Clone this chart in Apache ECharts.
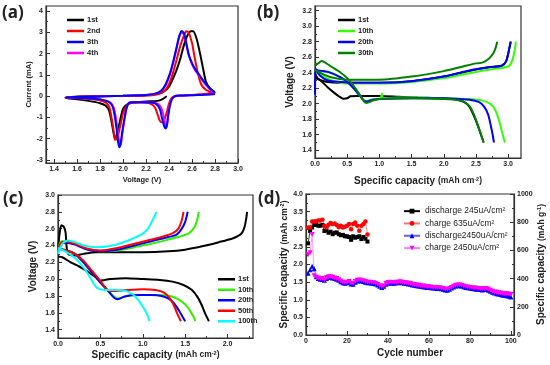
<!DOCTYPE html>
<html><head><meta charset="utf-8">
<script src="https://cdn.jsdelivr.net/npm/echarts@6/dist/echarts.min.js"></script>
<style>html,body{margin:0;padding:0;background:#fff}#c{width:550px;height:365px}</style>
</head><body><div id="c"></div>
<script>
// ---------- Panel (a): CV curves [Voltage (V), Current (mA)] ----------
const aNames = ['1st','2nd','3th','4th'];
const aColors = ['#000000','#ff0000','#0000ff','#ff00ff'];
const a1st = [[2.38,0.0],[2.34,-0.15],[2.3,-0.22],[2.2,-0.25],[2.1,-0.3],[2.05,-0.35],[2.02,-0.45],[2.0,-0.6],[1.98,-1.0],[1.96,-1.5],[1.94,-1.9],[1.93,-1.98],[1.92,-1.8],[1.9,-1.2],[1.88,-0.7],[1.85,-0.45],[1.8,-0.33],[1.7,-0.22],[1.6,-0.14],[1.5,-0.08],[1.55,-0.04],[1.7,0.0],[2.0,0.02],[2.2,0.05],[2.3,0.1],[2.35,0.2],[2.4,0.45],[2.44,0.9],[2.47,1.3],[2.5,1.8],[2.53,2.4],[2.56,2.85],[2.59,3.05],[2.61,3.05],[2.64,2.7],[2.67,2.0],[2.7,1.2],[2.72,0.7],[2.75,0.4],[2.78,0.25],[2.8,0.2]];
const a2nd = [[2.8,0.15],[2.7,0.1],[2.6,0.06],[2.5,0.03],[2.45,0.0],[2.42,-0.1],[2.4,-0.35],[2.38,-0.75],[2.36,-1.1],[2.34,-1.22],[2.32,-1.15],[2.3,-0.85],[2.28,-0.55],[2.25,-0.38],[2.2,-0.3],[2.1,-0.3],[2.06,-0.32],[2.03,-0.45],[2.0,-0.8],[1.98,-1.3],[1.96,-1.75],[1.94,-2.02],[1.93,-2.05],[1.92,-1.7],[1.9,-1.0],[1.88,-0.5],[1.85,-0.3],[1.8,-0.2],[1.7,-0.13],[1.6,-0.08],[1.5,-0.05],[1.6,-0.03],[1.8,0.0],[2.1,0.02],[2.25,0.05],[2.32,0.12],[2.37,0.3],[2.41,0.7],[2.44,1.2],[2.47,1.8],[2.5,2.4],[2.53,2.85],[2.55,3.05],[2.57,3.0],[2.6,2.5],[2.62,1.9],[2.65,1.1],[2.68,0.55],[2.72,0.3],[2.76,0.2],[2.8,0.15]];
const a3th = [[2.8,0.1],[2.7,0.07],[2.6,0.05],[2.5,0.03],[2.45,0.0],[2.43,-0.1],[2.41,-0.4],[2.39,-1.0],[2.38,-1.4],[2.37,-1.52],[2.36,-1.45],[2.34,-1.05],[2.32,-0.6],[2.29,-0.38],[2.25,-0.3],[2.15,-0.28],[2.08,-0.28],[2.05,-0.32],[2.03,-0.55],[2.01,-1.1],[1.99,-1.8],[1.98,-2.2],[1.97,-2.4],[1.96,-2.25],[1.95,-1.8],[1.93,-1.0],[1.91,-0.5],[1.88,-0.28],[1.8,-0.15],[1.7,-0.1],[1.5,-0.05],[1.7,-0.02],[2.0,0.02],[2.2,0.06],[2.28,0.12],[2.33,0.25],[2.37,0.55],[2.41,1.1],[2.44,1.7],[2.47,2.4],[2.49,2.85],[2.51,3.07],[2.53,2.95],[2.55,2.5],[2.57,2.0],[2.6,1.55],[2.63,1.25],[2.67,0.95],[2.71,0.65],[2.75,0.4],[2.78,0.25],[2.8,0.15]];
const a4th = [[2.8,0.1],[2.6,0.05],[2.5,0.02],[2.45,-0.02],[2.42,-0.15],[2.4,-0.6],[2.39,-1.1],[2.38,-1.45],[2.37,-1.4],[2.36,-1.1],[2.34,-0.65],[2.31,-0.38],[2.26,-0.3],[2.15,-0.28],[2.08,-0.28],[2.05,-0.32],[2.03,-0.6],[2.01,-1.2],[1.99,-1.9],[1.98,-2.3],[1.97,-2.28],[1.96,-1.9],[1.94,-1.1],[1.92,-0.55],[1.89,-0.3],[1.8,-0.15],[1.7,-0.1],[1.5,-0.06],[1.7,-0.02],[2.0,0.02],[2.2,0.06],[2.28,0.12],[2.33,0.25],[2.37,0.5],[2.41,1.05],[2.44,1.65],[2.47,2.35],[2.49,2.8],[2.51,3.0],[2.53,2.9],[2.55,2.45],[2.57,1.95],[2.6,1.5],[2.63,1.2],[2.67,0.9],[2.71,0.6],[2.75,0.35],[2.78,0.2],[2.8,0.12]];
const aTicksX = [1.4,1.6,1.8,2.0,2.2,2.4,2.6,2.8,3.0];
const aTicksY = [-3,-2,-1,0,1,2,3,4];

// ---------- Panel (b): [capacity (mAh cm-2), voltage (V)] ----------
const bNames = ['1st','10th','20th','30th'];
const bColors = ['#000000','#33ff00','#0000ff','#008000'];
const b1stD = [[0,2.4],[0.03,2.34],[0.1,2.29],[0.2,2.21],[0.3,2.14],[0.38,2.09],[0.44,2.065],[0.5,2.07],[0.55,2.095],[0.65,2.1],[0.8,2.1],[1.0,2.1],[1.3,2.09],[1.6,2.08],[2.0,2.07],[2.2,2.05],[2.32,2.02],[2.4,1.96],[2.46,1.86],[2.52,1.74],[2.57,1.62],[2.62,1.5]];
const b1stC = [[0,2.33],[0.1,2.3],[0.2,2.28],[0.35,2.27],[0.5,2.27],[1.0,2.27],[1.5,2.29],[2.0,2.35],[2.5,2.44],[2.7,2.47],[2.9,2.49],[2.97,2.55],[3.01,2.68],[3.04,2.8]];
const b10thD = [[0,2.42],[0.1,2.42],[0.25,2.4],[0.4,2.34],[0.5,2.28],[0.6,2.2],[0.7,2.1],[0.76,2.04],[0.8,2.03],[0.86,2.05],[0.95,2.06],[1.02,2.07],[1.04,2.13],[1.06,2.07],[1.3,2.08],[1.6,2.08],[2.0,2.07],[2.4,2.06],[2.6,2.04],[2.72,2.0],[2.8,1.92],[2.86,1.78],[2.91,1.62],[2.95,1.5]];
const b10thC = [[0,2.42],[0.15,2.34],[0.3,2.29],[0.5,2.26],[1.0,2.26],[1.5,2.28],[2.0,2.33],[2.5,2.41],[2.8,2.45],[3.0,2.48],[3.06,2.55],[3.1,2.68],[3.12,2.8]];
const b20thD = [[0,2.45],[0.05,2.43],[0.2,2.41],[0.4,2.34],[0.5,2.28],[0.6,2.2],[0.7,2.1],[0.76,2.04],[0.8,2.03],[0.9,2.05],[1.0,2.06],[1.5,2.07],[2.0,2.07],[2.4,2.05],[2.55,2.02],[2.63,1.96],[2.69,1.86],[2.73,1.72],[2.76,1.6],[2.78,1.5]];
const b20thC = [[0,2.12],[0.005,2.45],[0.08,2.36],[0.2,2.3],[0.4,2.28],[0.6,2.27],[1.0,2.27],[1.5,2.29],[2.0,2.35],[2.4,2.43],[2.7,2.47],[2.9,2.49],[2.97,2.55],[3.01,2.68],[3.04,2.8]];
const b30thD = [[0,2.5],[0.05,2.52],[0.1,2.55],[0.14,2.54],[0.25,2.48],[0.4,2.4],[0.5,2.33],[0.6,2.23],[0.7,2.11],[0.77,2.02],[0.8,2.01],[0.9,2.04],[1.0,2.06],[1.5,2.07],[2.0,2.06],[2.2,2.05],[2.32,2.02],[2.4,1.97],[2.47,1.86],[2.53,1.72],[2.58,1.6],[2.62,1.5]];
const b30thC = [[0,2.44],[0.1,2.39],[0.25,2.34],[0.5,2.31],[1.0,2.31],[1.5,2.35],[2.0,2.42],[2.3,2.48],[2.5,2.52],[2.6,2.53],[2.7,2.58],[2.77,2.65],[2.81,2.73],[2.83,2.8]];
const bTicksX = [0,0.5,1.0,1.5,2.0,2.5,3.0];
const bTicksY = [1.4,1.6,1.8,2.0,2.2,2.4,2.6,2.8,3.0,3.2];

// ---------- Panel (c) ----------
const cNames = ['1st','10th','20th','50th','100th'];
const cColors = ['#000000','#33ee00','#0000ff','#ff0000','#00ffff'];
const c1stD = [[0,2.27],[0.05,2.26],[0.15,2.2],[0.25,2.15],[0.35,2.09],[0.45,2.02],[0.5,1.98],[0.55,1.99],[0.62,2.0],[0.8,2.01],[1.0,2.0],[1.2,1.99],[1.35,1.97],[1.48,1.93],[1.58,1.87],[1.65,1.78],[1.7,1.68],[1.74,1.58],[1.78,1.5]];
const c1stC = [[0,2.35],[0.02,2.55],[0.04,2.64],[0.07,2.62],[0.09,2.55],[0.1,2.4],[0.12,2.3],[0.2,2.28],[0.3,2.3],[0.45,2.32],[0.7,2.32],[1.0,2.32],[1.3,2.33],[1.5,2.35],[1.7,2.39],[1.9,2.44],[2.05,2.48],[2.12,2.51],[2.17,2.55],[2.2,2.62],[2.22,2.72],[2.23,2.8]];
const c10thD = [[0,2.36],[0.1,2.34],[0.2,2.3],[0.3,2.2],[0.4,2.08],[0.5,1.96],[0.6,1.85],[0.68,1.78],[0.72,1.77],[0.8,1.8],[0.95,1.81],[1.2,1.81],[1.32,1.8],[1.42,1.76],[1.5,1.7],[1.56,1.62],[1.6,1.55],[1.62,1.5]];
const c10thC = [[0,2.35],[0.04,2.45],[0.1,2.45],[0.2,2.42],[0.35,2.36],[0.5,2.33],[0.7,2.34],[0.9,2.38],[1.1,2.42],[1.3,2.47],[1.45,2.51],[1.55,2.55],[1.61,2.62],[1.64,2.7],[1.66,2.8]];
const c20thD = [[0,2.36],[0.1,2.34],[0.2,2.3],[0.3,2.2],[0.4,2.08],[0.5,1.96],[0.6,1.85],[0.66,1.78],[0.7,1.76],[0.78,1.79],[0.9,1.81],[1.1,1.81],[1.22,1.8],[1.3,1.77],[1.37,1.71],[1.43,1.62],[1.47,1.55],[1.5,1.5]];
const c20thC = [[0,2.35],[0.06,2.43],[0.12,2.43],[0.2,2.41],[0.35,2.35],[0.5,2.33],[0.7,2.35],[0.9,2.4],[1.1,2.45],[1.3,2.5],[1.4,2.53],[1.46,2.6],[1.5,2.68],[1.53,2.8]];
const c50thD = [[0,2.36],[0.1,2.34],[0.2,2.3],[0.3,2.22],[0.4,2.1],[0.5,1.98],[0.55,1.91],[0.6,1.86],[0.68,1.86],[0.8,1.87],[1.0,1.88],[1.15,1.87],[1.25,1.84],[1.32,1.77],[1.37,1.68],[1.41,1.58],[1.45,1.5]];
const c50thC = [[0,2.35],[0.05,2.44],[0.12,2.44],[0.2,2.42],[0.35,2.36],[0.5,2.34],[0.7,2.37],[0.9,2.42],[1.1,2.47],[1.25,2.51],[1.36,2.55],[1.42,2.6],[1.46,2.7],[1.48,2.8]];
const c100thD = [[0,2.37],[0.1,2.32],[0.2,2.25],[0.3,2.14],[0.38,2.02],[0.43,1.93],[0.47,1.89],[0.55,1.87],[0.7,1.87],[0.8,1.86],[0.88,1.82],[0.94,1.76],[0.99,1.69],[1.03,1.62],[1.06,1.56],[1.08,1.5]];
const c100thC = [[0,2.3],[0.05,2.42],[0.12,2.46],[0.2,2.44],[0.3,2.4],[0.45,2.38],[0.6,2.39],[0.75,2.43],[0.9,2.49],[1.0,2.54],[1.06,2.6],[1.1,2.67],[1.14,2.75],[1.16,2.8]];
const cTicksX = [0,0.5,1.0,1.5,2.0];
const cTicksY = [1.4,1.6,1.8,2.0,2.2,2.4,2.6,2.8,3.0];

// ---------- Panel (d): capacity vs cycle (value i is cycle i+1) ----------
const dNames = ['discharge 245uA/cm²','charge 635uA/cm²','discharge2450uA/cm²','charge 2450uA/cm²'];
const dDis245 = [2.6,2.95,3.05,3.12,3.13,3.1,3.1,3.12,2.95,2.97,2.9,2.93,2.86,2.9,2.91,2.86,2.83,2.84,2.8,2.8,2.78,2.7,2.8,2.76,2.78,2.8,2.72,2.78,2.73,2.65];
const dCh635 = [3.05,3.05,3.22,3.22,3.23,3.25,3.25,3.27,3.1,3.05,3.13,3.18,3.15,3.16,3.12,3.06,3.1,3.05,3.07,3.1,3.15,3.0,3.15,3.19,3.1,2.96,3.1,3.15,3.22,2.85];
const dDis2450 = [1.75,1.85,1.95,1.88,1.65,1.6,1.58,1.58,1.55,1.6,1.63,1.63,1.62,1.6,1.58,1.55,1.51,1.48,1.47,1.48,1.5,1.45,1.44,1.5,1.53,1.54,1.53,1.52,1.5,1.48,1.48,1.47,1.46,1.45,1.42,1.38,1.35,1.38,1.44,1.47,1.48,1.47,1.47,1.48,1.48,1.49,1.48,1.47,1.46,1.45,1.44,1.42,1.41,1.4,1.39,1.38,1.37,1.36,1.35,1.35,1.34,1.33,1.33,1.32,1.32,1.31,1.3,1.28,1.27,1.3,1.33,1.36,1.39,1.4,1.4,1.39,1.37,1.35,1.34,1.33,1.32,1.31,1.3,1.3,1.29,1.28,1.29,1.29,1.27,1.24,1.21,1.19,1.17,1.16,1.15,1.13,1.12,1.11,1.1,1.08];
const dCh2450 = [2.28,2.33,2.85,1.68,1.64,1.62,1.6,1.6,1.57,1.63,1.65,1.65,1.64,1.62,1.6,1.57,1.53,1.5,1.49,1.5,1.52,1.47,1.46,1.52,1.55,1.56,1.55,1.54,1.52,1.5,1.5,1.49,1.48,1.47,1.44,1.4,1.37,1.4,1.46,1.49,1.5,1.49,1.49,1.5,1.5,1.51,1.5,1.49,1.48,1.47,1.46,1.44,1.43,1.42,1.41,1.4,1.39,1.38,1.37,1.37,1.36,1.35,1.35,1.34,1.34,1.33,1.32,1.3,1.3,1.32,1.35,1.38,1.41,1.42,1.42,1.41,1.39,1.37,1.36,1.35,1.34,1.33,1.33,1.32,1.31,1.31,1.32,1.32,1.3,1.27,1.24,1.22,1.21,1.2,1.19,1.18,1.17,1.17,1.16,1.15];
const dTicksX = [0,20,40,60,80,100];
const dTicksY = [0,0.5,1.0,1.5,2.0,2.5,3.0,3.5,4.0];
const dTicksY2 = [0,200,400,600,800,1000];

// ---------- build ----------
const AX = '#333';
const LBL = {fontFamily:'Liberation Sans', fontWeight:'bold', fontSize:7, color:'#222'};
function mids(t){const r=[];for(let i=0;i<t.length-1;i++)r.push((t[i]+t[i+1])/2);return r;}
function pair(gi,min,max,majors,minorsExtra,fmt,pos,extra){
  const minors = mids(majors).concat(minorsExtra||[]);
  const main = Object.assign({
    type:'value', gridIndex:gi, min:min, max:max, position:pos,
    axisLine:{show:true,onZero:false,lineStyle:{color:AX,width:1.2}},
    axisTick:{show:true,inside:true,length:4,customValues:majors,lineStyle:{color:AX,width:1}},
    axisLabel:Object.assign({customValues:majors,formatter:fmt,margin:3},LBL),
    splitLine:{show:false}
  }, extra||{});
  const minor = {type:'value', gridIndex:gi, min:min, max:max, position:pos,
    axisLine:{show:false,onZero:false},
    axisTick:{show:true,inside:true,length:2,customValues:minors,lineStyle:{color:AX,width:1}},
    axisLabel:{show:false}, splitLine:{show:false}};
  return [main,minor];
}
const f1 = v=>v.toFixed(1), f0 = v=>String(Math.round(v));
const titleBig = {fontFamily:'Liberation Sans',fontWeight:'bold',fontSize:10,color:'#222',
  rich:{p:{fontFamily:'Liberation Sans',fontWeight:'bold',fontSize:8.5,color:'#222'},
        sup:{fontFamily:'Liberation Sans',fontWeight:'bold',fontSize:5.5,color:'#222',verticalAlign:'top'}}};
const titleSmall = {fontFamily:'Liberation Sans',fontWeight:'bold',fontSize:7.5,color:'#222'};

const xAxis = [].concat(
  pair(0,1.33,3.0,aTicksX,[],f1,'bottom',{name:'Voltage (V)',nameLocation:'middle',nameGap:13,nameTextStyle:titleSmall}),
  pair(1,0,3.2,bTicksX,[],f1,'bottom',{name:'Specific capacity {p|(mAh cm}{sup|-2}{p|)}',nameLocation:'middle',nameGap:18,nameTextStyle:titleBig}),
  pair(2,0,2.3,cTicksX,[2.25],f1,'bottom',{name:'Specific capacity {p|(mAh cm}{sup|-2}{p|)}',nameLocation:'middle',nameGap:12,nameTextStyle:titleBig}),
  pair(3,0,101.5,dTicksX,[],f0,'bottom',{name:'Cycle number',nameLocation:'middle',nameGap:13,nameTextStyle:titleBig})
);
const yAxis = [].concat(
  pair(0,-3.14,4.24,aTicksY,[],f0,'left',{name:'Current (mA)',nameLocation:'middle',nameGap:9,nameTextStyle:titleSmall}),
  pair(1,1.3,3.26,bTicksY,[],f1,'left',{name:'Voltage (V)',nameLocation:'middle',nameGap:20,nameTextStyle:titleBig}),
  pair(2,1.3,3.0,cTicksY,[],f1,'left',{name:'Voltage (V)',nameLocation:'middle',nameGap:20,nameTextStyle:titleBig}),
  pair(3,0,4.0,dTicksY,[],f1,'left',{name:'Specific capacity {p|(mAh cm}{sup|-2}{p|)}',nameLocation:'middle',nameGap:16,nameTextStyle:titleBig}),
  pair(3,0,1000,dTicksY2,[],f0,'right',{name:'Specific capacity {p|(mAh g}{sup|-1}{p|)}',nameLocation:'middle',nameGap:22,nameTextStyle:titleBig})
);

const series = [];
function curve(panel, name, color, data, xi, yi){
  series.push({type:'line', name:panel+':'+name, xAxisIndex:xi, yAxisIndex:yi, data:data,
    showSymbol:false, symbol:'none', smooth:0.25, lineStyle:{color:color,width:2}, itemStyle:{color:color}, animation:false});
}
const aData = [a1st,a2nd,a3th,a4th];
[0,1,3,2].forEach(i=>curve('a',aNames[i],aColors[i],aData[i],0,0));
const bData = [[b1stD,b1stC],[b10thD,b10thC],[b20thD,b20thC],[b30thD,b30thC]];
bData.forEach((pr,i)=>{curve('b',bNames[i],bColors[i],pr[0],2,2);curve('b',bNames[i],bColors[i],pr[1],2,2);});
const cData = [[c1stD,c1stC],[c10thD,c10thC],[c20thD,c20thC],[c50thD,c50thC],[c100thD,c100thC]];
cData.forEach((pr,i)=>{curve('c',cNames[i],cColors[i],pr[0],4,4);curve('c',cNames[i],cColors[i],pr[1],4,4);});

const dSets = [
  {v:dDis245, sym:'rect', size:4, c:'#000000', lc:'#000000', rot:0},
  {v:dCh635, sym:'circle', size:4.5, c:'#ff0000', lc:'#ff7070', rot:0},
  {v:dDis2450, sym:'triangle', size:5, c:'#0000ff', lc:'#6060ff', rot:0},
  {v:dCh2450, sym:'triangle', size:5, c:'#ff00ff', lc:'#ff80ff', rot:180}
];
dSets.forEach((s,i)=>{
  series.push({type:'line', name:'d:'+dNames[i], xAxisIndex:6, yAxisIndex:6,
    data:s.v.map((y,k)=>[k+1,y]), symbol:s.sym, symbolSize:s.size, symbolRotate:s.rot, showSymbol:true,
    lineStyle:{color:s.lc,width:0.8}, itemStyle:{color:s.c}, animation:false});
});

const legTxt = {fontFamily:'Liberation Sans',fontWeight:'bold',fontSize:7.5,color:'#222'};
function leg(panel,names,left,top,lh){
  return {orient:'vertical', left:left, top:top, icon:'rect', itemWidth:17, itemHeight:2.5, itemGap:0,
    data:names.map(n=>panel+':'+n), formatter:n=>n.slice(2), selectedMode:false,
    textStyle:Object.assign({lineHeight:lh,padding:[0,0,0,-2]},legTxt)};
}
const legend = [
  leg('a',aNames,62,9.5,11),
  leg('b',bNames,333,9.5,11),
  leg('c',cNames,213,269,10.5),
  {orient:'vertical', left:398, top:200, itemWidth:16, itemHeight:6, itemGap:0, selectedMode:false,
   data:dNames.map(n=>'d:'+n), formatter:n=>n.slice(2),
   textStyle:{fontFamily:'Liberation Sans',fontSize:8.5,color:'#222',lineHeight:12.3}}
];

const pl = (t,x,y)=>({type:'text',left:x,top:y,style:{text:t,font:'bold 17px "Open Sans"',fill:'#222'}});
const option = {
  animation:false, backgroundColor:'#fff',
  grid:[
    {left:46, top:6, width:192, height:157, show:true, borderColor:AX, borderWidth:1.2},
    {left:315, top:6, width:206, height:152, show:true, borderColor:AX, borderWidth:1.2},
    {left:58, top:195, width:195, height:143, show:true, borderColor:AX, borderWidth:1.2},
    {left:306, top:194, width:208, height:141, show:true, borderColor:AX, borderWidth:1.2}
  ],
  xAxis:xAxis, yAxis:yAxis, series:series, legend:legend,
  graphic:[pl('(a)',2,5),pl('(b)',257,5),pl('(c)',3,191),pl('(d)',258,191)]
};
const chart = echarts.init(document.getElementById('c'),null,{renderer:'canvas'});
chart.setOption(option);
</script></body></html>
